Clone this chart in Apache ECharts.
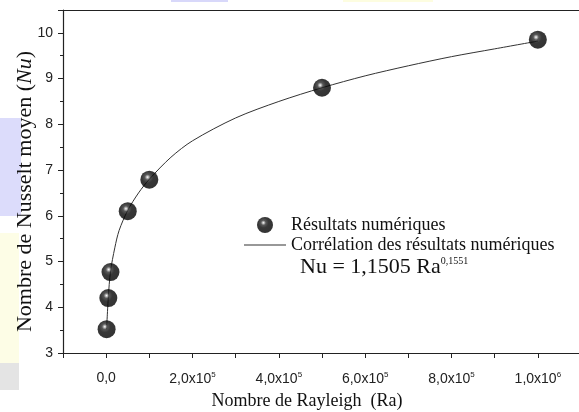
<!DOCTYPE html>
<html>
<head>
<meta charset="utf-8">
<script src="https://cdn.jsdelivr.net/npm/echarts@6/dist/echarts.min.js"></script>
<style>
  html, body { margin: 0; padding: 0; background: #fff; }
  #chart { width: 579px; height: 412px; }
</style>
</head>
<body>
<div id="chart"></div>
<script>
// résultats numériques (Ra, Nu)
const raNum = [1000, 5000, 10000, 50000, 100000, 500000, 1000000]
const nuNum = [3.52, 4.2, 4.77, 6.1, 6.79, 8.8, 9.85]

// courbe de corrélation
const raFit = [1000, 5000, 10000, 20000, 30000, 50000, 75000, 100000, 150000, 200000,
  300000, 400000, 500000, 600000, 700000, 800000, 900000, 1000000]
const nuFit = [3.52, 4.22, 4.78, 5.3, 5.68, 6.12, 6.5, 6.8, 7.28, 7.64,
  8.14, 8.5, 8.8, 9.06, 9.28, 9.48, 9.65, 9.82]

const yTicks = [3, 4, 5, 6, 7, 8, 9, 10]

const serif = '"Liberation Serif", "DejaVu Serif", serif'
const sans = '"Liberation Sans", Arial, sans-serif'

const chart = echarts.init(document.getElementById('chart'))

// bille noire avec reflet
const sphere = {
  type: 'radial', x: 0.4, y: 0.36, r: 0.64,
  colorStops: [
    { offset: 0, color: '#ffffff' },
    { offset: 0.09, color: '#b0b0b0' },
    { offset: 0.24, color: '#2e2e2e' },
    { offset: 0.5, color: '#060606' },
    { offset: 1, color: '#000' }
  ]
}

function xLabel(v) {
  const k = Math.round(v / 100000)
  if (k < 0 || k % 2 !== 0 || k > 10) return ''
  if (k === 0) return '0,0'
  if (k === 10) return '1,0x10{s|6}'
  return k + ',0x10{s|5}'
}

chart.setOption({
  animation: false,
  backgroundColor: '#fff',
  grid: { left: 63, right: -2, top: 10, bottom: 59, show: false, outerBoundsMode: 'none', containLabel: false },
  legend: {
    orient: 'vertical',
    left: 244,
    top: 216,
    padding: 0,
    itemWidth: 42,
    itemHeight: 16,
    itemGap: 2,
    textStyle: { fontFamily: serif, fontSize: 18, color: '#111' },
    data: [
      { name: 'Résultats numériques' },
      { name: 'Corrélation des résultats numériques', icon: 'path://M0 0H100V2.4H0Z' }
    ]
  },
  xAxis: [
    {
      type: 'value',
      min: -100000,
      max: 1100000,
      interval: 100000,
      splitLine: { show: false },
      axisLine: { onZero: false, lineStyle: { color: '#222', width: 1.2 } },
      axisTick: { length: 5, lineStyle: { color: '#222' } },
      axisLabel: {
        margin: 18,
        fontFamily: sans,
        fontSize: 14,
        color: '#222',
        formatter: xLabel,
        rich: { s: { fontSize: 8, fontFamily: sans, color: '#222', padding: [0, 0, 9, 0] } }
      },
      name: 'Nombre de Rayleigh  (Ra)',
      nameLocation: 'middle',
      nameGap: 39,
      nameMoveOverlap: false,
      nameTextStyle: { fontFamily: serif, fontSize: 18, color: '#111', padding: [0, 30, 0, 0] }
    },
    {
      type: 'value',
      position: 'top',
      min: -100000,
      max: 1100000,
      axisLine: { show: true, onZero: false, lineStyle: { color: '#222', width: 1.2 } },
      axisTick: { show: false },
      axisLabel: { show: false },
      splitLine: { show: false }
    }
  ],
  yAxis: {
    type: 'value',
    min: 3,
    max: 10.5,
    interval: 1,
    splitLine: { show: false },
    axisLine: { show: true, onZero: false, lineStyle: { color: '#222', width: 1.2 } },
    axisTick: { length: 5, lineStyle: { color: '#222' } },
    minorTick: { show: true, splitNumber: 2, length: 3, lineStyle: { color: '#222' } },
    axisLabel: {
      margin: 10,
      fontFamily: sans,
      fontSize: 14,
      color: '#222',
      formatter: v => (yTicks.indexOf(v) >= 0 ? String(v) : '')
    },
    name: 'Nombre de Nusselt moyen ({i|Nu})',
    nameLocation: 'middle',
    nameGap: 27,
    nameMoveOverlap: false,
    nameTextStyle: {
      fontFamily: serif, fontSize: 22, color: '#111', padding: [0, 20, 0, 0],
      rich: { i: { fontFamily: serif, fontSize: 22, fontStyle: 'italic', color: '#111' } }
    }
  },
  series: [
    {
      name: 'Corrélation des résultats numériques',
      type: 'line',
      smooth: 0.3,
      symbol: 'none',
      showSymbol: false,
      lineStyle: { color: '#333', width: 1 },
      itemStyle: { color: '#333' },
      data: raFit.map((r, i) => [r, nuFit[i]]),
      z: 2
    },
    {
      name: 'Résultats numériques',
      type: 'scatter',
      symbol: 'circle',
      symbolSize: 18,
      itemStyle: { color: sphere },
      data: raNum.map((r, i) => [r, nuNum[i]]),
      z: 3
    }
  ],
  graphic: [
    { type: 'rect', shape: { x: 0, y: 118, width: 21, height: 98 }, style: { fill: '#dcdcfb' }, z: -10 },
    { type: 'rect', shape: { x: 0, y: 233, width: 19, height: 130 }, style: { fill: '#fdfde6' }, z: -10 },
    { type: 'rect', shape: { x: 0, y: 363, width: 19, height: 27 }, style: { fill: '#e4e4e4' }, z: -10 },
    { type: 'rect', shape: { x: 171, y: 0, width: 57, height: 2 }, style: { fill: '#d8d8fa' }, z: -10 },
    { type: 'rect', shape: { x: 343, y: 0, width: 90, height: 2 }, style: { fill: '#fdfde0' }, z: -10 },
    {
      type: 'text',
      left: 300,
      top: 256,
      style: {
        text: '{n|Nu = 1,1505 Ra}{s|0,1551}',
        rich: {
          n: { fontFamily: serif, fontSize: 22, fill: '#111' },
          s: { fontFamily: serif, fontSize: 10, fill: '#111', padding: [0, 0, 13, 0] }
        }
      }
    }
  ]
})
</script>
</body>
</html>
